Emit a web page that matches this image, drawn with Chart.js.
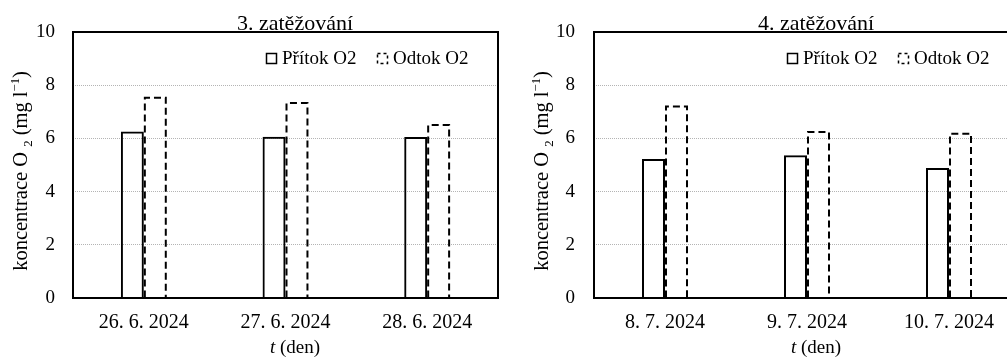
<!DOCTYPE html>
<html>
<head>
<meta charset="utf-8">
<script src="https://cdn.jsdelivr.net/npm/chart.js@4.4.1/dist/chart.umd.min.js"></script>
<style>
  html, body { margin: 0; padding: 0; background: #fff; overflow: hidden; width: 1007px; height: 358px; }
  canvas { position: absolute; top: 0; }
  #c3 { left: 0; }
  #c4 { left: 500px; }
</style>
</head>
<body>
<canvas id="c3" width="505" height="358"></canvas>
<canvas id="c4" width="540" height="358"></canvas>
<script>
// 3. zatěžování
const days3 = ['26. 6. 2024', '27. 6. 2024', '28. 6. 2024'];
const inflow3 = [6.26, 6.06, 6.05];
const outflow3 = [7.57, 7.37, 6.54];

// 4. zatěžování
const days4 = ['8. 7. 2024', '9. 7. 2024', '10. 7. 2024'];
const inflow4 = [5.23, 5.37, 4.89];
const outflow4 = [7.24, 6.28, 6.21];

const seriesNames = ['Přítok O2', 'Odtok O2'];
const yTickValues = [0, 2, 4, 6, 8, 10];

const FONT = "'Liberation Serif', 'Times New Roman', serif";

// stroke a dashed open outline (left, top, right) around bars of datasets carrying outlineDash
const dashedOutline = {
  id: 'dashedOutline',
  afterDatasetsDraw(chart) {
    const ctx = chart.ctx;
    chart.data.datasets.forEach((ds, i) => {
      if (!ds.outlineDash) return;
      chart.getDatasetMeta(i).data.forEach(bar => {
        const p = bar.getProps(['x', 'y', 'base', 'width'], true);
        const l = p.x - p.width / 2 + 1, r = p.x + p.width / 2 - 1, t = p.y + 1;
        ctx.save();
        ctx.strokeStyle = '#000';
        ctx.lineWidth = 2;
        ctx.setLineDash(ds.outlineDash);
        ctx.beginPath();
        ctx.moveTo(l, p.base);
        ctx.lineTo(l, t);
        ctx.lineTo(r, t);
        ctx.lineTo(r, p.base);
        ctx.stroke();
        ctx.restore();
      });
    });
  }
};

// plot frame drawn over the bars
const plotFrame = {
  id: 'plotFrame',
  afterDatasetsDraw(chart) {
    const { ctx, chartArea: a } = chart;
    ctx.save();
    ctx.strokeStyle = '#000';
    ctx.lineWidth = 2;
    ctx.strokeRect(a.left, a.top, a.right - a.left, a.bottom - a.top);
    ctx.restore();
  }
};

function drawRuns(ctx, runs, size) {
  // measure then draw a sequence of text pieces with optional sub/superscript
  let total = 0;
  runs.forEach(r => {
    const s = r.mode ? size * 0.62 : size;
    ctx.font = (r.italic ? 'italic ' : '') + s + 'px ' + FONT;
    r.w = ctx.measureText(r.t).width;
    total += r.w;
  });
  let x = -total / 2;
  runs.forEach(r => {
    const s = r.mode ? size * 0.62 : size;
    ctx.font = (r.italic ? 'italic ' : '') + s + 'px ' + FONT;
    const dy = r.mode === 'sub' ? size * 0.22 : r.mode === 'sup' ? -size * 0.38 : 0;
    ctx.fillText(r.t, x, dy);
    x += r.w;
  });
}

function textPlugin(title) {
  return {
    id: 'texts',
    afterDraw(chart) {
      const { ctx, chartArea: a } = chart;
      const cx = a.left + 222;
      ctx.save();
      ctx.fillStyle = '#000';
      ctx.textBaseline = 'alphabetic';
      ctx.textAlign = 'left';

      // chart title
      ctx.save();
      ctx.translate(cx, 30);
      drawRuns(ctx, [{ t: title }], 22);
      ctx.restore();

      // x axis title
      ctx.save();
      ctx.translate(cx, 353);
      drawRuns(ctx, [{ t: 't', italic: true }, { t: ' (den)' }], 19);
      ctx.restore();

      // y axis title
      ctx.save();
      ctx.translate(a.left - 46, (a.top + a.bottom) / 2 + 6);
      ctx.rotate(-Math.PI / 2);
      drawRuns(ctx, [
        { t: 'koncentrace O ' }, { t: '2', mode: 'sub' },
        { t: ' (mg l' }, { t: '−1', mode: 'sup' }, { t: ')' }
      ], 20.5);
      ctx.restore();

      // legend
      const ds = chart.data.datasets;
      const items = [
        { box: 193, text: 209, ds: ds[0] },
        { box: 304, text: 320, ds: ds[1] }
      ];
      items.forEach(it => {
        ctx.save();
        ctx.strokeStyle = '#000';
        ctx.lineWidth = 1.5;
        ctx.setLineDash(it.ds.outlineDash ? [3, 3] : []);
        ctx.strokeRect(a.left + it.box + 0.5, 53.5, 10, 10);
        ctx.restore();
        ctx.font = '19px ' + FONT;
        ctx.fillText(it.ds.label, a.left + it.text, 64);
      });
      ctx.restore();
    }
  };
}

function makeChart(id, labels, inflow, outflow, title, axisWidth, tickPad, rightPad) {
  return new Chart(document.getElementById(id), {
    type: 'bar',
    data: {
      labels: labels,
      datasets: [
        {
          label: seriesNames[0], data: inflow,
          backgroundColor: 'rgba(0,0,0,0)', borderColor: '#000', borderWidth: 2,
          borderSkipped: 'start'
        },
        {
          label: seriesNames[1], data: outflow,
          backgroundColor: 'rgba(0,0,0,0)', borderColor: 'rgba(0,0,0,0)', borderWidth: 0,
          outlineDash: [7, 4]
        }
      ]
    },
    options: {
      responsive: false,
      animation: false,
      events: [],
      layout: { padding: { top: 32, right: rightPad, left: 0, bottom: 0 } },
      datasets: { bar: { categoryPercentage: 0.324, barPercentage: 1 } },
      plugins: { legend: { display: false }, title: { display: false }, tooltip: { enabled: false } },
      scales: {
        x: {
          grid: { display: false, drawTicks: false },
          border: { display: false },
          ticks: { color: '#000', padding: 13, font: { family: FONT, size: 20 }, maxRotation: 0 },
          afterFit(s) { s.height = 60; }
        },
        y: {
          min: 0, max: 10,
          afterBuildTicks(s) { s.ticks = yTickValues.map(v => ({ value: v })); },
          grid: {
            drawTicks: false,
            lineWidth: 1,
            color: c => (c.tick && (c.tick.value === 0 || c.tick.value === 10)) ? 'rgba(0,0,0,0)' : '#b4b4b4'
          },
          border: { display: false, dash: [1, 1] },
          ticks: { color: '#000', padding: tickPad, font: { family: FONT, size: 19 } },
          afterFit(s) { s.width = axisWidth; }
        }
      }
    },
    plugins: [dashedOutline, plotFrame, textPlugin(title)]
  });
}

makeChart('c3', days3, inflow3, outflow3, '3. zatěžování', 73, 18, 7);
makeChart('c4', days4, inflow4, outflow4, '4. zatěžování', 94, 19, 20);
</script>
</body>
</html>
